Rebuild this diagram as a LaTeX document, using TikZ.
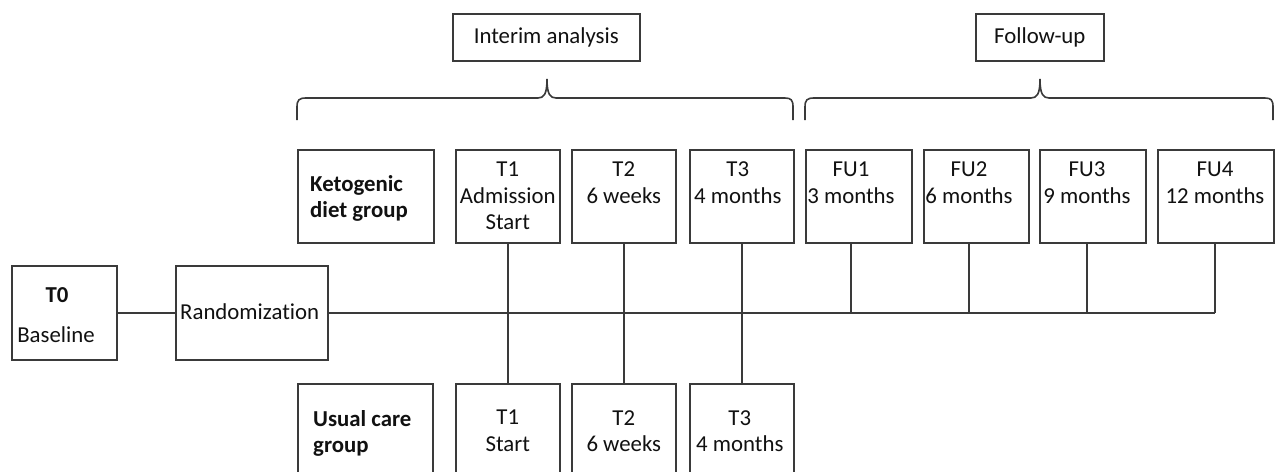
\documentclass[tikz,border=0pt]{standalone}
\usepackage{fontspec}
\setmainfont{Carlito}[Ligatures=NoCommon]
\usetikzlibrary{calc}
\definecolor{ln}{HTML}{3A3A3A}
\definecolor{tx}{HTML}{111111}
\newcommand\mybox[5]{\node[box,minimum width=#4pt,minimum height=#5pt] (#1) at (#2,#3) {};}
\begin{document}
\begin{tikzpicture}[x=1pt,y=-1pt,
  box/.style={draw=ln, line width=1.6pt, rectangle, inner sep=0pt, anchor=north west},
  txt/.style={text=tx, font=\fontsize{22.8}{26.5}\selectfont, inner sep=0pt, align=center},
  btxt/.style={txt, font=\fontsize{22.8}{26.5}\selectfont\bfseries},
  conn/.style={draw=ln, line width=1.6pt}]
\useasboundingbox (0,0) rectangle (1279,471);
\clip (0,0) rectangle (1279,471);
\fill[white] (0,0) rectangle (1279,471);
% boxes
\mybox{ia}{452}{13}{187}{47}
\mybox{fu}{975}{13}{128}{47}
\mybox{kg}{297}{149}{136}{93}
\mybox{k1}{455}{149}{104}{93}
\mybox{k2}{571}{149}{104}{93}
\mybox{k3}{689}{149}{104}{93}
\mybox{f1}{805}{149}{106}{93}
\mybox{f2}{923}{149}{105}{93}
\mybox{f3}{1039}{149}{106}{93}
\mybox{f4}{1157}{149}{116}{93}
\mybox{t0}{11}{265}{105}{94}
\mybox{rd}{175}{265}{152}{94}
\mybox{ug}{297}{383}{135}{120}
\mybox{u1}{455}{383}{104}{120}
\mybox{u2}{571}{383}{104}{120}
\mybox{u3}{689}{383}{104}{120}
% texts
\node[txt] (iat) at (ia.center) {Interim analysis};
\node[txt] (fut) at (fu.center) {Follow-up};
\node[btxt, anchor=north west, align=left] (kgt) at ($(kg.north west)+(13,26)$) {Ketogenic\\diet group};
\node[txt, anchor=north] (k1t) at ($(k1.north)+(0,13)$) {T1\\Admission\\Start};
\node[txt, anchor=north] (k2t) at ($(k2.north)+(0,13)$) {T2\\6 weeks};
\node[txt, anchor=north] (k3t) at ($(k3.north)+(-4,13)$) {T3\\4 months};
\node[txt, anchor=north] (f1t) at (851,162) {FU1\\3 months};
\node[txt, anchor=north] (f2t) at (969,162) {FU2\\6 months};
\node[txt, anchor=north] (f3t) at (1087,162) {FU3\\9 months};
\node[txt, anchor=north] (f4t) at (1215,162) {FU4\\12 months};
\node[btxt] (t0a) at (57,295) {T0};
\node[txt] (t0b) at (56,335) {Baseline};
\node[txt, anchor=west] (rdt) at (180,312) {Randomization};
\node[btxt, anchor=north west, align=left] (ugt) at ($(ug.north west)+(16,27)$) {Usual care\\group};
\node[txt, anchor=north] (u1t) at ($(u1.north)+(0,27)$) {T1\\Start};
\node[txt, anchor=north] (u2t) at ($(u2.north)+(0,27)$) {T2\\6 weeks};
\node[txt, anchor=north] (u3t) at ($(u3.north)+(-2,27)$) {T3\\4 months};
% braces
\draw[conn] (297,120) -- (297,107) .. controls (297,100) and (299,98) .. (306,98)
  -- (538,98) .. controls (544,98) and (547,94) .. (547,79)
  .. controls (547,94) and (550,98) .. (556,98) -- (785,98)
  .. controls (791,98) and (793,100) .. (793,107) -- (793,120);
\draw[conn] (805,120) -- (805,107) .. controls (805,100) and (807,98) .. (814,98)
  -- (1031,98) .. controls (1037,98) and (1040,94) .. (1040,79)
  .. controls (1040,94) and (1043,98) .. (1049,98) -- (1265,98)
  .. controls (1271,98) and (1273,100) .. (1273,107) -- (1273,120);
% connectors
\draw[conn] (t0) -- (rd);
\draw[conn] (rd.east) -- (f4t |- rd.east);
\draw[conn] (k1) -- (u1);
\draw[conn] (k2) -- (u2);
\draw[conn] (k3) -- (u3);
\draw[conn] (f1t |- f1.south) -- (f1t |- rd.east);
\draw[conn] (f2t |- f2.south) -- (f2t |- rd.east);
\draw[conn] (f3t |- f3.south) -- (f3t |- rd.east);
\draw[conn] (f4t |- f4.south) -- (f4t |- rd.east);
\end{tikzpicture}
\end{document}
